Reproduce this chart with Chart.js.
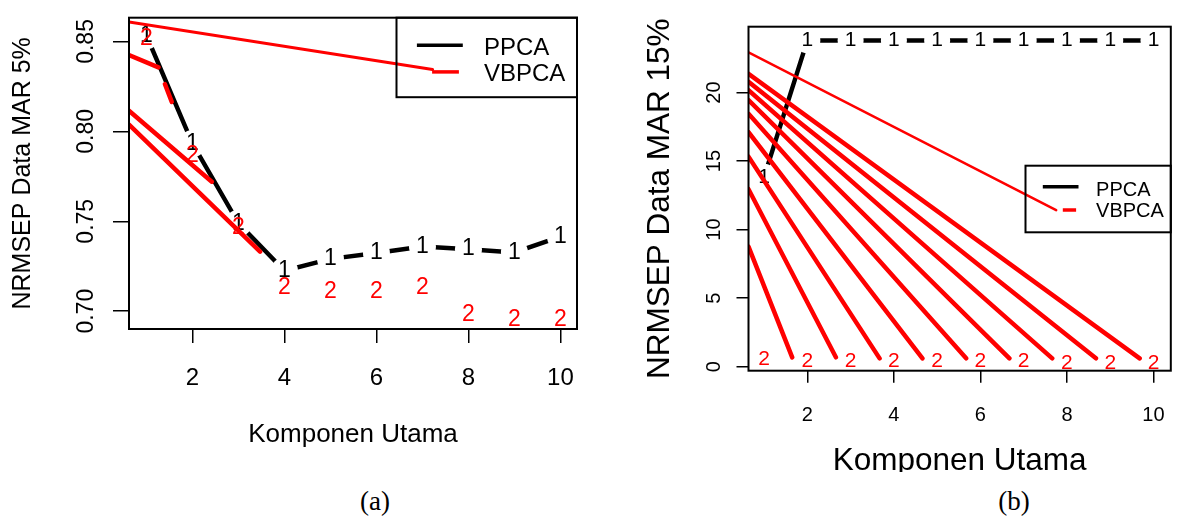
<!DOCTYPE html>
<html>
<head>
<meta charset="utf-8">
<script src="https://cdn.jsdelivr.net/npm/chart.js@4"></script>
<style>
  html, body { margin: 0; padding: 0; background: #fff; }
  body { width: 1185px; height: 520px; position: relative; overflow: hidden; }
  .panel { position: absolute; top: 0; overflow: hidden; }
  .cap {
    position: absolute; transform: translate(-50%, -50%);
    font-family: 'Liberation Serif', 'Times New Roman', serif; font-size: 27px; color: #000;
  }
</style>
</head>
<body>
<div class="panel" style="left:0;width:600px;height:470px"><canvas id="chartA" width="600" height="470"></canvas></div>
<div class="panel" style="left:600px;width:585px;height:472px"><canvas id="chartB" width="585" height="500"></canvas></div>
<div class="cap" style="left:375px;top:501px">(a)</div>
<div class="cap" style="left:1014px;top:501px">(b)</div>

<script>
// ---- data ----
const komponen = [1, 2, 3, 4, 5, 6, 7, 8, 9, 10];
const xTicks = [2, 4, 6, 8, 10];

// (a) MAR 5%
const ppca5  = [0.8532, 0.7932, 0.7489, 0.7225, 0.7291, 0.7324, 0.7360, 0.7345, 0.7327, 0.7414];
const vbpca5 = [0.8515, 0.7867, 0.7462, 0.7129, 0.7106, 0.7106, 0.7133, 0.6980, 0.6953, 0.6953];
const yTicks5 = [0.70, 0.75, 0.80, 0.85];
// broken VBPCA dash strokes: [x0, y0, x1, y1]
const stray5 = [
  [0.62, 0.8608, 7.22, 0.8344],
  [0.62, 0.8424, 1.26, 0.8356],
  [1.40, 0.8263, 1.55, 0.8164],
  [0.62, 0.8115, 2.42, 0.7720],
  [0.62, 0.8038, 3.47, 0.7331],
];

// (b) MAR 15%
const ppca15  = [13.85, 23.8, 23.8, 23.8, 23.8, 23.8, 23.8, 23.8, 23.8, 23.8];
const vbpca15 = [0.54, 0.40, 0.40, 0.40, 0.40, 0.40, 0.40, 0.29, 0.29, 0.29];
const yTicks15 = [0, 5, 10, 15, 20];
const stray15 = [
  [0.64, 22.92, 7.75, 11.42],
  [0.64, 21.37, 9.68, 0.61],
  [0.64, 20.79, 8.67, 0.61],
  [0.64, 20.17, 7.66, 0.61],
  [0.64, 19.44, 6.67, 0.61],
  [0.64, 18.45, 5.67, 0.61],
  [0.64, 17.11, 4.66, 0.61],
  [0.64, 15.32, 3.67, 0.61],
  [0.64, 12.95, 2.66, 0.685],
  [0.64, 8.76, 1.65, 0.685],
];

const FONT = "'Liberation Sans', Arial, sans-serif";

// R type="b" look: gap around each point, then the plotting character
const textPoints = {
  id: 'textPoints',
  afterDatasetDraw(chart, args) {
    const ds = chart.data.datasets[args.index];
    if (!ds.pointText) return;
    const ctx = chart.ctx;
    const pts = args.meta.data;
    ctx.save();
    if (ds.gap) {
      ctx.globalCompositeOperation = 'destination-out';
      pts.forEach(p => { ctx.beginPath(); ctx.arc(p.x, p.y, ds.gap, 0, Math.PI * 2); ctx.fill(); });
      ctx.globalCompositeOperation = 'source-over';
    }
    ctx.fillStyle = ds.textColor;
    ctx.font = ds.textFont;
    ctx.textAlign = 'center';
    ctx.textBaseline = 'middle';
    pts.forEach(p => ctx.fillText(ds.pointText, p.x, p.y));
    ctx.restore();
  }
};

const frame = {
  id: 'frame',
  afterDatasetsDraw(chart) {
    const { ctx, chartArea: a } = chart;
    ctx.save();
    ctx.strokeStyle = '#000';
    ctx.lineWidth = 2;
    ctx.strokeRect(a.left, a.top, a.right - a.left, a.bottom - a.top);
    ctx.restore();
  }
};

const rLegend = {
  id: 'rLegend',
  afterDraw(chart, args, o) {
    const { ctx, chartArea: a } = chart;
    const x0 = a.right - o.width, y0 = a.top + o.top;
    ctx.save();
    ctx.strokeStyle = '#000';
    ctx.lineWidth = 2;
    ctx.strokeRect(x0, y0, o.width, o.height);
    chart.data.datasets.filter(d => d.legendRow !== undefined).forEach(d => {
      const r = o.rows[d.legendRow];
      ctx.strokeStyle = d.textColor;
      ctx.lineWidth = o.lineWidth;
      ctx.beginPath();
      ctx.moveTo(x0 + r.x1, y0 + r.y);
      ctx.lineTo(x0 + r.x2, y0 + r.y);
      ctx.stroke();
      ctx.fillStyle = '#000';
      ctx.font = o.font;
      ctx.textAlign = 'left';
      ctx.textBaseline = 'middle';
      ctx.fillText(d.label, x0 + o.textX, y0 + r.ty);
    });
    ctx.restore();
  }
};

function pts(ys) {
  return komponen.map((k, i) => ({ x: k, y: ys[i] }));
}

function makePanel(canvasId, p) {
  const datasets = [
    {
      label: 'PPCA',
      data: pts(p.ppca),
      borderColor: '#000',
      borderWidth: 4.5,
      pointRadius: 0,
      order: 3,
      pointText: '1', textColor: '#000', textFont: `${p.markSize}px ${FONT}`, gap: p.gap,
      legendRow: 0,
    },
    ...p.stray.map((s, i) => ({
      label: '',
      data: [{ x: s[0], y: s[1] }, { x: s[2], y: s[3] }],
      borderColor: '#ff0000',
      borderWidth: i === 0 ? p.thin : 4.5,
      borderCapStyle: 'round',
      pointRadius: 0,
      order: 2,
    })),
    {
      label: 'VBPCA',
      data: pts(p.vbpca),
      showLine: false,
      pointRadius: 0,
      order: 1,
      pointText: '2', textColor: '#ff0000', textFont: `${p.markSize}px ${FONT}`,
      legendRow: 1,
    },
  ];

  return new Chart(document.getElementById(canvasId), {
    type: 'line',
    data: { datasets },
    plugins: [textPoints, frame, rLegend],
    options: {
      responsive: false,
      animation: false,
      devicePixelRatio: 1,
      events: [],
      layout: { autoPadding: false, padding: { left: 0, top: p.top, right: p.right, bottom: 0 } },
      plugins: {
        legend: { display: false },
        tooltip: { enabled: false },
        rLegend: p.legend,
      },
      scales: {
        x: {
          type: 'linear',
          min: p.xMin, max: p.xMax,
          afterBuildTicks: s => { s.ticks = xTicks.map(v => ({ value: v })); },
          afterFit: s => { s.height = p.xAxisH; },
          border: { display: false },
          grid: { drawOnChartArea: false, drawTicks: true, tickLength: p.xTickLen, color: '#000', lineWidth: 1.5 },
          ticks: { color: '#000', font: { family: FONT, size: p.xTickSize }, padding: p.xTickPad, maxRotation: 0 },
          title: {
            display: true, text: 'Komponen Utama', color: '#000',
            font: { family: FONT, size: p.xTitleSize }, padding: { top: 0, bottom: p.xTitlePad },
          },
        },
        y: {
          min: p.yMin, max: p.yMax,
          afterBuildTicks: s => { s.ticks = p.yTicks.map(v => ({ value: v })); },
          afterFit: s => { s.width = p.yAxisW; },
          border: { display: false },
          grid: { drawOnChartArea: false, drawTicks: true, tickLength: p.yTickLen, color: '#000', lineWidth: 1.5 },
          ticks: {
            color: '#000', font: { family: FONT, size: p.yTickSize }, padding: p.yTickPad,
            minRotation: 90, maxRotation: 90, crossAlign: 'center',
            callback: p.fmt,
          },
          title: {
            display: true, text: p.yTitle, color: '#000',
            font: { family: FONT, size: p.yTitleSize }, padding: { top: p.yTitlePad, bottom: 0 },
          },
        },
      },
    },
  });
}

makePanel('chartA', {
  ppca: ppca5, vbpca: vbpca5, stray: stray5, yTicks: yTicks5,
  xMin: 0.62, xMax: 10.36, yMin: 0.6901, yMax: 0.8632,
  top: 8.5, right: 23, yAxisW: 129, xAxisH: 141,
  xTickLen: 14, yTickLen: 16, xTickSize: 24, yTickSize: 23, xTickPad: 21, yTickPad: 3.9,
  xTitleSize: 26, xTitlePad: 19.4, yTitleSize: 25, yTitlePad: 8.3,
  yTitle: 'NRMSEP Data MAR 5%', fmt: v => v.toFixed(2),
  markSize: 23, gap: 13.5, thin: 3,
  legend: {
    width: 180.5, height: 79.5, top: 0, textX: 87.4, lineWidth: 3.5, font: `24px ${FONT}`,
    rows: [{ x1: 20.4, x2: 66.3, y: 27.5, ty: 30.5 }, { x1: 35.6, x2: 62.4, y: 54.2, ty: 56.5 }],
  },
});

makePanel('chartB', {
  ppca: ppca15, vbpca: vbpca15, stray: stray15, yTicks: yTicks15,
  xMin: 0.64, xMax: 10.4, yMin: -0.29, yMax: 24.8,
  top: 26.7, right: 2, yAxisW: 148.5, xAxisH: 129.3,
  xTickLen: 12, yTickLen: 12, xTickSize: 20, yTickSize: 20, xTickPad: 20.3, yTickPad: 11,
  xTitleSize: 31.5, xTitlePad: 19.4, yTitleSize: 31.5, yTitlePad: 41.1,
  yTitle: 'NRMSEP Data MAR 15%', fmt: v => String(v),
  markSize: 21, gap: 13, thin: 2.5,
  legend: {
    width: 145.3, height: 66.6, top: 139, textX: 70.6, lineWidth: 3.5, font: `20px ${FONT}`,
    rows: [{ x1: 17.3, x2: 53, y: 21, ty: 24.5 }, { x1: 37.3, x2: 50.6, y: 44.3, ty: 45.5 }],
  },
});
</script>
</body>
</html>
